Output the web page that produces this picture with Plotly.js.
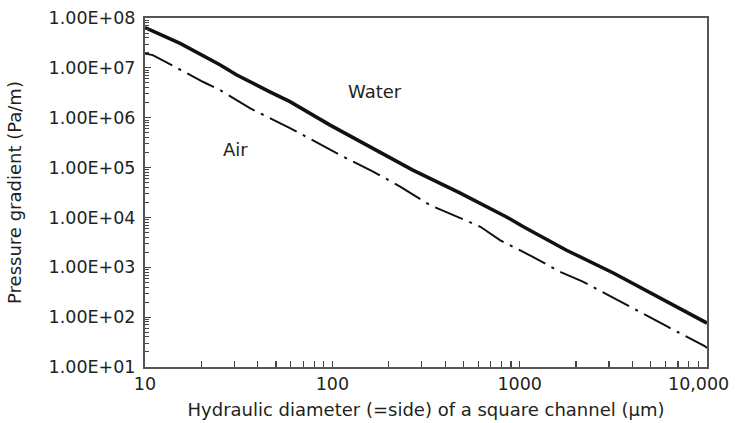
<!DOCTYPE html>
<html>
<head>
<meta charset="utf-8">
<script src="https://cdn.plot.ly/plotly-3.0.1.min.js"></script>
<style>html,body{margin:0;padding:0;background:#fff}#chart{width:736px;height:423px}</style>
</head>
<body>
<div id="chart"></div>
<script>
// Water series
const waterX = [10, 15.4, 25.1, 30.9, 46.4, 59.4, 97.3, 159, 269, 479, 851, 1047, 1778, 3162, 5012, 7762, 10000];
const waterY = [6.4e7, 3.1e7, 1.15e7, 7.2e6, 3.3e6, 2.1e6, 7.1e5, 2.6e5, 8.9e4, 3.1e4, 1.02e4, 6.5e3, 2.2e3, 770, 305, 121, 76];
// Air series
const airX = [10, 11, 20.5, 25.1, 36.3, 59.4, 110, 165, 229, 331, 617, 785, 1175, 1644, 2188, 3311, 6124, 9772, 10000];
const airY = [1.95e7, 1.8e7, 5.2e6, 3.6e6, 1.55e6, 6.2e5, 1.78e5, 8.3e4, 4.2e4, 1.78e4, 6.5e3, 3.5e3, 1.62e3, 810, 510, 220, 65, 26, 24];
// Tick labels
const yTickVals = [1e1, 1e2, 1e3, 1e4, 1e5, 1e6, 1e7, 1e8];
const yTickText = ["1.00E+01", "1.00E+02", "1.00E+03", "1.00E+04", "1.00E+05", "1.00E+06", "1.00E+07", "1.00E+08"];
const xTickVals = [10, 100, 1000, 10000];
const xTickText = ["10", "100", "1000", "10,000"];

function minorVals(lo, hi) {
  const v = [];
  for (let d = lo; d < hi; d *= 10) for (let k = 2; k <= 9; k++) v.push(d * k);
  return v;
}

const txt = '#231f20';
const fam = 'DejaVu Sans, Verdana, sans-serif';
const traces = [
  {x: waterX, y: waterY, mode: 'lines', line: {color: '#111', width: 3.5}, name: 'Water', hoverinfo: 'skip'},
  {x: airX, y: airY, mode: 'lines', line: {color: '#111', width: 2, dash: '30px,7px,3px,7px'}, name: 'Air', hoverinfo: 'skip'}
];

// the last x label sits slightly left of its tick (as in the reference), so it is drawn as an annotation
const nLast = xTickVals.length - 1;
const shownXText = xTickText.map((t, i) => i === nLast ? '' : t);

const layout = {
  width: 736, height: 423,
  margin: {l: 145, r: 29, t: 18, b: 56},
  paper_bgcolor: '#fff', plot_bgcolor: '#fff',
  showlegend: false,
  font: {family: fam, size: 17, color: txt},
  xaxis: {
    type: 'log', range: [1, 4], showgrid: false, zeroline: false,
    tickmode: 'array', tickvals: xTickVals, ticktext: shownXText,
    ticks: 'inside', ticklen: 6, tickwidth: 1.2, tickcolor: '#444',
    showline: true, linecolor: '#555', linewidth: 2, mirror: true,
    tickfont: {family: fam, size: 17.5, color: txt},
    minor: {tickvals: minorVals(10, 10000), ticks: 'inside', ticklen: 6, tickwidth: 1.2, tickcolor: '#444', showgrid: false},
    title: {text: 'Hydraulic diameter (=side) of a square channel (µm)', font: {family: fam, size: 18, color: txt}, standoff: 10}
  },
  yaxis: {
    type: 'log', range: [1, 8], showgrid: false, zeroline: false,
    tickmode: 'array', tickvals: yTickVals, ticktext: yTickText,
    ticks: 'inside', ticklen: 6, tickwidth: 1.2, tickcolor: '#444',
    showline: true, linecolor: '#555', linewidth: 2, mirror: true,
    tickfont: {family: fam, size: 17.5, color: txt}, ticklabelstandoff: 4, ticklabeloverflow: 'allow',
    minor: {tickvals: minorVals(10, 1e8), ticks: 'inside', ticklen: 4, tickwidth: 1, tickcolor: '#444', showgrid: false},
    title: {text: 'Pressure gradient (Pa/m)', font: {family: fam, size: 18, color: txt}, standoff: 22}
  },
  annotations: [
    {x: Math.log10(169), y: Math.log10(3.4e6), xref: 'x', yref: 'y', text: 'Water', showarrow: false, font: {family: fam, size: 18, color: txt}},
    {x: Math.log10(30.6), y: Math.log10(2.35e5), xref: 'x', yref: 'y', text: 'Air', showarrow: false, font: {family: fam, size: 18, color: txt}},
    {x: Math.log10(xTickVals[nLast]), y: 0, xref: 'x', yref: 'paper', xanchor: 'right', yanchor: 'top', xshift: 24, yshift: -5,
     text: xTickText[nLast], showarrow: false, font: {family: fam, size: 17.5, color: txt}}
  ]
};

Plotly.newPlot('chart', traces, layout, {staticPlot: true, displayModeBar: false});
</script>
</body>
</html>
